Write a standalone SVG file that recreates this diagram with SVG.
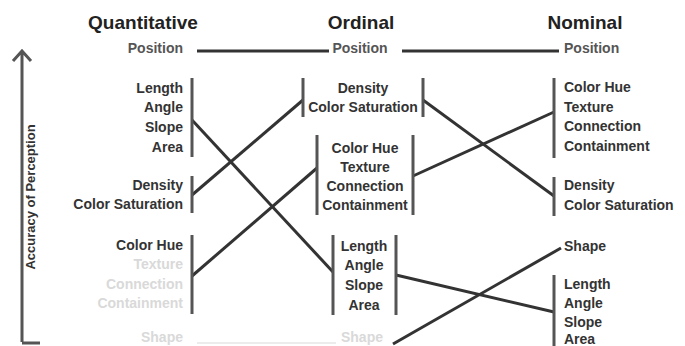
<svg xmlns="http://www.w3.org/2000/svg" width="685" height="346" viewBox="0 0 685 346">
<style>
text{font-family:"Liberation Sans",Arial,sans-serif;font-weight:bold;font-size:14px;fill:#333}
.h{font-size:19px;fill:#222;text-anchor:middle}
.pos{fill:#555}
.lt{fill:#d9d9d9}
.q{text-anchor:end}
.o{text-anchor:middle}
.bar{stroke:#555;stroke-width:3;fill:none}
.cn{stroke:#333;stroke-width:3;fill:none}
</style>
<rect width="685" height="346" fill="#fff"/>
<g id="axis">
<path d="M22,342 V51 M13,61 L22,51 L31,61 M22,343 H40" stroke="#555" stroke-width="3" fill="none"/>
<text transform="translate(35,197) rotate(-90)" text-anchor="middle" style="font-size:13px">Accuracy of Perception</text>
</g>
<g id="connectors">
<line class="cn" x1="197" y1="51" x2="329" y2="51"/>
<line class="cn" x1="402" y1="51" x2="559" y2="51"/>
<line x1="197" y1="343" x2="336" y2="343" stroke="#ececec" stroke-width="2"/>
<line class="cn" x1="192" y1="120" x2="333" y2="272"/>
<line class="cn" x1="192" y1="195" x2="303" y2="100"/>
<line class="cn" x1="192" y1="276" x2="317" y2="168"/>
<line class="cn" x1="423" y1="100" x2="554" y2="196"/>
<line class="cn" x1="413" y1="176" x2="554" y2="112"/>
<line class="cn" x1="396" y1="275" x2="554" y2="312"/>
<line class="cn" x1="393" y1="344" x2="561" y2="248"/>
</g>
<g id="quantitative">
<text class="h" x="143" y="29">Quantitative</text>
<text class="q pos" x="183" y="53">Position</text>
<g id="q-group1">
<line class="bar" x1="192" y1="78" x2="192" y2="157"/>
<text class="q" x="183" y="93">Length</text>
<text class="q" x="183" y="112">Angle</text>
<text class="q" x="183" y="132">Slope</text>
<text class="q" x="183" y="152">Area</text>
</g>
<g id="q-group2">
<line class="bar" x1="192" y1="176" x2="192" y2="213"/>
<text class="q" x="183" y="190">Density</text>
<text class="q" x="183" y="209">Color Saturation</text>
</g>
<g id="q-group3">
<line class="bar" x1="192" y1="235" x2="192" y2="314"/>
<text class="q" x="183" y="250">Color Hue</text>
<text class="q lt" x="183" y="269">Texture</text>
<text class="q lt" x="183" y="289">Connection</text>
<text class="q lt" x="183" y="308">Containment</text>
</g>
<text class="q lt" x="183" y="342">Shape</text>
</g>
<g id="ordinal">
<text class="h" x="361" y="29">Ordinal</text>
<text class="o pos" x="360" y="53">Position</text>
<g id="o-group1">
<line class="bar" x1="303" y1="78" x2="303" y2="117"/>
<line class="bar" x1="423" y1="78" x2="423" y2="117"/>
<text class="o" x="363" y="93">Density</text>
<text class="o" x="363" y="112">Color Saturation</text>
</g>
<g id="o-group2">
<line class="bar" x1="317" y1="135" x2="317" y2="215"/>
<line class="bar" x1="413" y1="135" x2="413" y2="215"/>
<text class="o" x="365" y="153">Color Hue</text>
<text class="o" x="365" y="172">Texture</text>
<text class="o" x="365" y="191">Connection</text>
<text class="o" x="365" y="210">Containment</text>
</g>
<g id="o-group3">
<line class="bar" x1="333" y1="235" x2="333" y2="315"/>
<line class="bar" x1="396" y1="235" x2="396" y2="315"/>
<text class="o" x="364" y="251">Length</text>
<text class="o" x="364" y="270">Angle</text>
<text class="o" x="364" y="290">Slope</text>
<text class="o" x="364" y="310">Area</text>
</g>
<text class="o lt" x="362" y="342">Shape</text>
</g>
<g id="nominal">
<text class="h" x="585" y="29">Nominal</text>
<text class="pos" x="564" y="53">Position</text>
<g id="n-group1">
<line class="bar" x1="554" y1="78" x2="554" y2="158"/>
<text x="564" y="92">Color Hue</text>
<text x="564" y="112">Texture</text>
<text x="564" y="131">Connection</text>
<text x="564" y="151">Containment</text>
</g>
<g id="n-group2">
<line class="bar" x1="554" y1="177" x2="554" y2="216"/>
<text x="564" y="190">Density</text>
<text x="564" y="210">Color Saturation</text>
</g>
<text x="564" y="251">Shape</text>
<g id="n-group3">
<line class="bar" x1="554" y1="275" x2="554" y2="346"/>
<text x="564" y="289">Length</text>
<text x="564" y="308">Angle</text>
<text x="564" y="327">Slope</text>
<text x="564" y="344">Area</text>
</g>
</g>
</svg>
